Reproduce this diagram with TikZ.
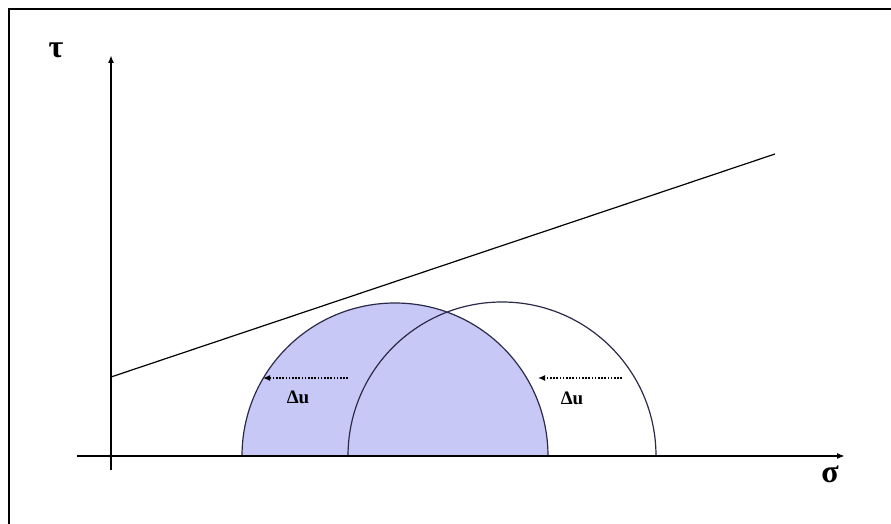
\documentclass[tikz,border=0pt]{standalone}
\usepackage{fontspec}
\setmainfont{Liberation Serif}
\usetikzlibrary{arrows.meta, positioning}
\definecolor{myblue}{HTML}{C8C8F6}
\definecolor{myline}{HTML}{2A2A48}

\begin{document}
\begin{tikzpicture}[x=1pt, y=1pt,
                axis/.style={-{Latex[length=8pt, width=6pt]}, line width=1.8pt},
                movearrow/.style={-{Latex[length=7pt, width=6pt]}, line width=2.2pt, dash pattern=on 1.6pt off 1.6pt},
                circ/.style={draw=myline, line width=1.2pt},
                lbl/.style={font=\bfseries\fontsize{32}{32}\selectfont, inner sep=0pt},
                dlbl/.style={font=\bfseries\fontsize{19}{19}\selectfont, inner sep=0pt}]
                \useasboundingbox (0,0) rectangle (891,524);
                \draw[line width=2.6pt] (9,0) -- (9,515) -- (891,515);

                % Mohr circles
                \filldraw[circ, fill=myblue] (242,68) arc[start angle=180, end angle=0, radius=153];
                \draw[circ] (348,68) arc[start angle=180, end angle=0, radius=154];

                % axes
                \coordinate (origin) at (111,68);
                \coordinate (xfrom) at (77,68);
                \coordinate (xto) at (845,68);
                \coordinate (yfrom) at (111,54);
                \coordinate (yto) at (111,469);
                \draw[axis] (xfrom) -- (xto);
                \draw[axis] (yfrom) -- (yto);
                \node[lbl] (tau) at (56,474) {τ};
                \node[lbl] (sigma) at (830,50) {σ};

                % failure envelope
                \coordinate (env1) at (111,147);
                \coordinate (env2) at (775,370);
                \draw[line width=1.2pt] (env1) -- (env2);

                % pore pressure shift
                \coordinate (s1a) at (348,146);
                \coordinate (s1b) at (263,146);
                \coordinate (s2a) at (622,146);
                \coordinate (s2b) at (538,146);
                \draw[movearrow] (s1a) -- (s1b);
                \draw[movearrow] (s2a) -- (s2b);
                \node[dlbl] (du1) at (298,127) {Δu};
                \node[dlbl] (du2) at (572,126) {Δu};
            \end{tikzpicture}
\end{document}
